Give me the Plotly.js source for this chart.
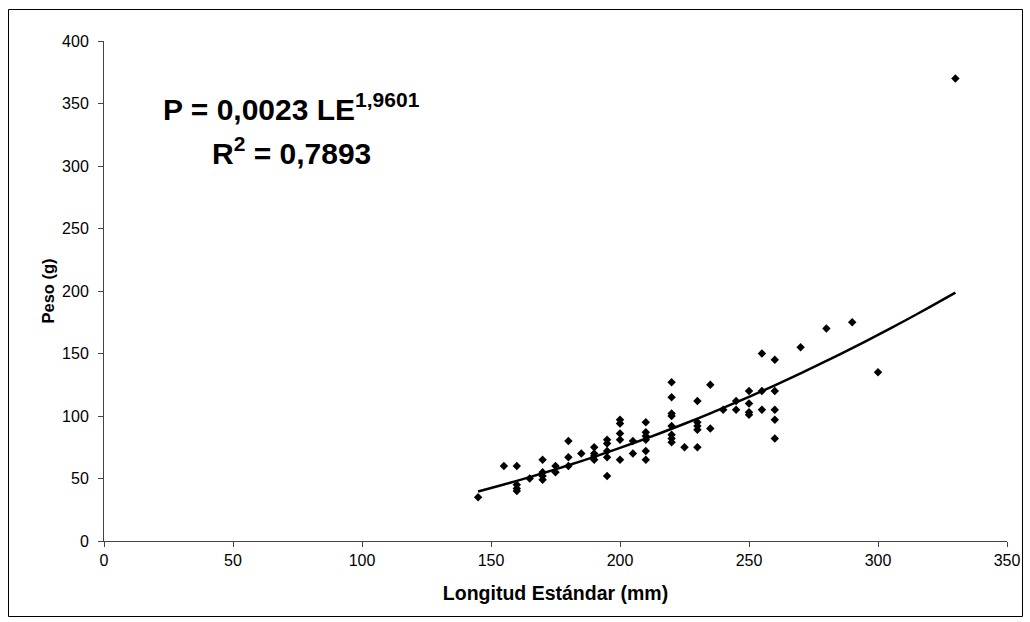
<!DOCTYPE html>
<html>
<head>
<meta charset="utf-8">
<script src="https://cdn.plot.ly/plotly-3.0.1.min.js"></script>
<style>html,body{margin:0;padding:0;background:#fff;}#chart{width:1030px;height:622px;}</style>
</head>
<body>
<div id="chart"></div>
<script>
// Longitud Estándar (mm)
const longitud = [145,155,160,160,160,160,165,170,170,170,170,175,175,180,180,180,185,
  190,190,190,190,195,195,195,195,195,200,200,200,200,200,205,205,
  210,210,210,210,210,210,220,220,220,220,220,220,220,220,225,
  230,230,230,230,230,235,235,240,245,245,250,250,250,250,255,255,255,
  260,260,260,260,260,270,280,290,300,330];
// Peso (g)
const peso = [35,60,60,45,42,40,50,65,55,52,49,60,55,80,67,60,70,
  75,70,68,65,81,78,72,67,52,97,94,86,81,65,80,70,
  95,87,84,81,72,65,127,115,102,100,92,85,82,79,75,
  112,95,92,89,75,125,90,105,112,105,120,110,103,101,150,120,105,
  145,120,105,97,82,155,170,175,135,370];
// Potential trend line: P = a * LE^b
const coefA = 0.0023;
const coefB = 1.9601;
const trendX = [145,150,155,160,165,170,175,180,185,190,195,200,205,210,215,220,225,230,235,240,245,250,255,260,265,270,275,280,285,290,295,300,305,310,315,320,325,330];
const trendY = trendX.map(v => coefA * Math.pow(v, coefB));
const xTicks = [0,50,100,150,200,250,300,350];
const yTicks = [0,50,100,150,200,250,300,350,400];

const W = 1030, H = 622;
const M = {l:104, r:23, t:41, b:81};
const pw = W - M.l - M.r, ph = H - M.t - M.b;
const px = p => (p - M.l) / pw;
const py = p => (H - M.b - p) / ph;

const FONT = 'Liberation Sans, Arial, sans-serif';

const traces = [
  {x: longitud, y: peso, type: 'scatter', mode: 'markers',
   marker: {symbol: 'diamond', size: 6.5, color: '#000'}, hoverinfo: 'x+y'},
  {x: trendX, y: trendY, type: 'scatter', mode: 'lines',
   line: {color: '#000', width: 2.5, shape: 'spline'}, hoverinfo: 'skip'}
];

const layout = {
  width: W, height: H,
  margin: M,
  showlegend: false,
  paper_bgcolor: '#fff', plot_bgcolor: '#fff',
  font: {family: FONT, color: '#000', size: 16},
  xaxis: {
    range: [0, 350], tickvals: xTicks, ticktext: xTicks.map(String),
    showgrid: false, zeroline: false, showline: true, linecolor: '#444', linewidth: 1,
    ticks: 'outside', ticklen: 5, tickcolor: '#444', tickfont: {size: 16},
    title: {text: '<b>Longitud Estándar (mm)</b>', font: {size: 19.5}, standoff: 18}
  },
  yaxis: {
    range: [0, 400], tickvals: yTicks, ticktext: yTicks.map(String),
    showgrid: false, zeroline: false, showline: true, linecolor: '#444', linewidth: 1,
    ticks: 'outside', ticklen: 5, tickcolor: '#444', tickfont: {size: 16},
    ticklabelstandoff: 6,
    title: {text: '<b>Peso (g)</b>', font: {size: 16.5}, standoff: 3}
  },
  annotations: [
    {xref: 'paper', yref: 'paper', x: px(161), y: py(107), xanchor: 'left', yanchor: 'middle',
     text: '<b>P = 0,0023 LE<sup>1,9601</sup></b>', showarrow: false, font: {size: 30, color: '#000'}},
    {xref: 'paper', yref: 'paper', x: px(210), y: py(151), xanchor: 'left', yanchor: 'middle',
     text: '<b>R<sup>2</sup> = 0,7893</b>', showarrow: false, font: {size: 30, color: '#000'}}
  ],
  shapes: [
    {type: 'rect', xref: 'paper', yref: 'paper', x0: px(8.5), x1: px(1022.5), y0: py(616.5), y1: py(9.5),
     line: {color: '#000', width: 1}, fillcolor: 'rgba(0,0,0,0)', layer: 'below'}
  ]
};

Plotly.newPlot('chart', traces, layout, {displayModeBar: false, staticPlot: true});
</script>
</body>
</html>
